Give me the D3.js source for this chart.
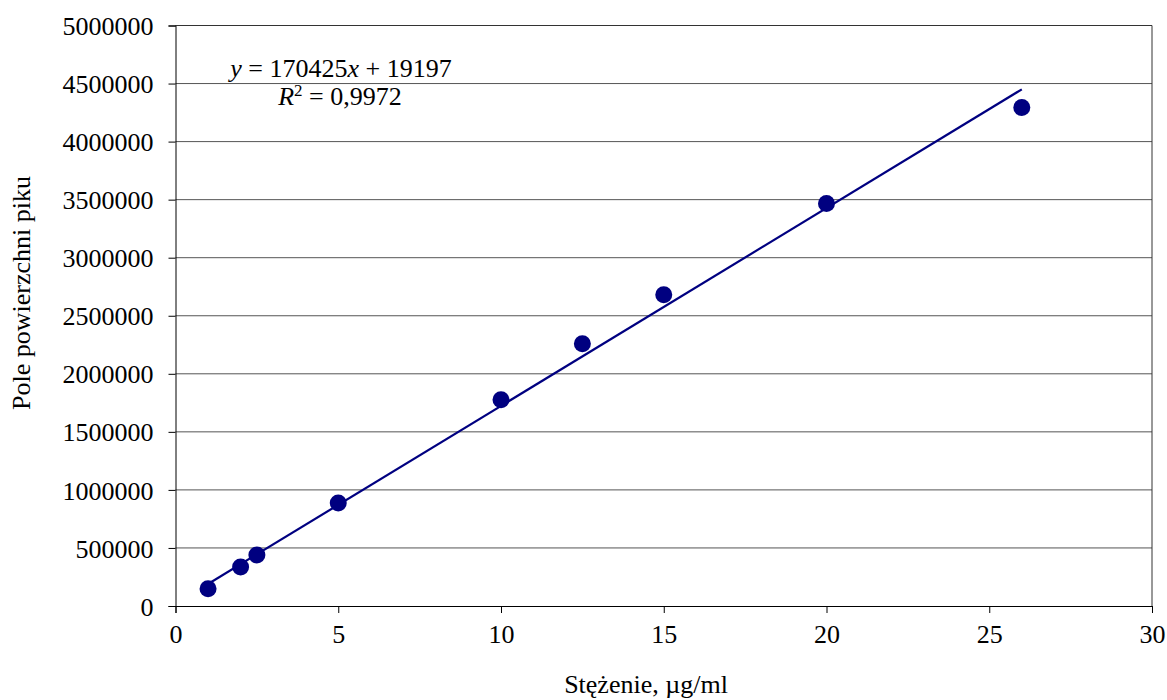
<!DOCTYPE html>
<html>
<head>
<meta charset="utf-8">
<script src="https://cdn.jsdelivr.net/npm/d3@7/dist/d3.min.js"></script>
<style>
  body { margin: 0; background: #fff; }
  svg text { font-family: "Times New Roman", "Liberation Serif", "DejaVu Serif", serif; fill: #000; }
</style>
</head>
<body>
<div id="chart"></div>
<script>
// concentration (µg/ml) and peak area
const concentrations = [1, 2, 2.5, 5, 10, 12.5, 15, 20, 26]
const peakAreas = [148000, 336000, 440000, 888000, 1776000, 2259000, 2681000, 3466000, 4293000]
const xTicks = [0, 5, 10, 15, 20, 25, 30]
const yTicks = [0, 500000, 1000000, 1500000, 2000000, 2500000, 3000000, 3500000, 4000000, 4500000, 5000000]
const slope = 170425
const intercept = 19197

const width = 1167
const height = 700
const margin = {left: 175.5, right: 15, top: 25.5, bottom: 94}
const serif = '"Times New Roman", "Liberation Serif", "DejaVu Serif", serif'
const fontSize = 26

const svg = d3.select('#chart').append('svg')
  .attr('width', width)
  .attr('height', height)
  .attr('font-family', serif)

const x = d3.scaleLinear().domain([0, 30]).range([margin.left, width - margin.right])
const y = d3.scaleLinear().domain([0, 5000000]).range([height - margin.bottom, margin.top])

// gridlines
svg.append('g')
  .selectAll('line')
  .data(yTicks.slice(1))
  .join('line')
  .attr('x1', x(0)).attr('x2', x(30))
  .attr('y1', d => y(d)).attr('y2', d => y(d))
  .attr('stroke', '#555')
  .attr('stroke-width', 1)

// plot border (top / right)
svg.append('path')
  .attr('d', `M${x(0)},${y(5000000)}H${x(30)}V${y(0)}`)
  .attr('fill', 'none')
  .attr('stroke', '#333')

const xAxis = svg.append('g')
  .attr('transform', `translate(0,${y(0)})`)
  .call(d3.axisBottom(x).tickValues(xTicks).tickSize(7).tickPadding(12).tickFormat(d3.format('d')))
  .attr('font-family', serif)
xAxis.select('.domain').attr('stroke', '#000')
xAxis.selectAll('text').attr('font-size', fontSize)

const yAxis = svg.append('g')
  .attr('transform', `translate(${x(0)},0)`)
  .call(d3.axisLeft(y).tickValues(yTicks).tickSize(7).tickPadding(15).tickFormat(d3.format('d')))
  .attr('font-family', serif)
yAxis.select('.domain').attr('stroke', '#000')
yAxis.selectAll('text').attr('font-size', fontSize).attr('dy', '0.35em')

// trendline
const xMin = d3.min(concentrations)
const xMax = d3.max(concentrations)
svg.append('line')
  .attr('x1', x(xMin)).attr('y1', y(slope * xMin + intercept))
  .attr('x2', x(xMax)).attr('y2', y(slope * xMax + intercept))
  .attr('stroke', '#000080')
  .attr('stroke-width', 2.2)

// points
svg.append('g')
  .selectAll('circle')
  .data(concentrations)
  .join('circle')
  .attr('cx', d => x(d))
  .attr('cy', (d, i) => y(peakAreas[i]))
  .attr('r', 8.5)
  .attr('fill', '#000080')

// equation
const eq = svg.append('text')
  .attr('x', 341).attr('y', 77)
  .attr('text-anchor', 'middle')
  .attr('font-size', fontSize)
eq.append('tspan').attr('font-style', 'italic').text('y')
eq.append('tspan').text(' = 170425')
eq.append('tspan').attr('font-style', 'italic').text('x')
eq.append('tspan').text(' + 19197')

const r2 = svg.append('text')
  .attr('x', 340).attr('y', 105)
  .attr('text-anchor', 'middle')
  .attr('font-size', fontSize)
r2.append('tspan').attr('font-style', 'italic').text('R')
r2.append('tspan').attr('font-size', 17).attr('dy', -9).text('2')
r2.append('tspan').attr('dy', 9).text(' = 0,9972')

// axis titles
svg.append('text')
  .attr('x', 646).attr('y', 693)
  .attr('text-anchor', 'middle')
  .attr('font-size', fontSize)
  .text('Stężenie, µg/ml')

svg.append('text')
  .attr('transform', 'translate(30,293) rotate(-90)')
  .attr('text-anchor', 'middle')
  .attr('font-size', fontSize)
  .text('Pole powierzchni piku')
</script>
</body>
</html>
